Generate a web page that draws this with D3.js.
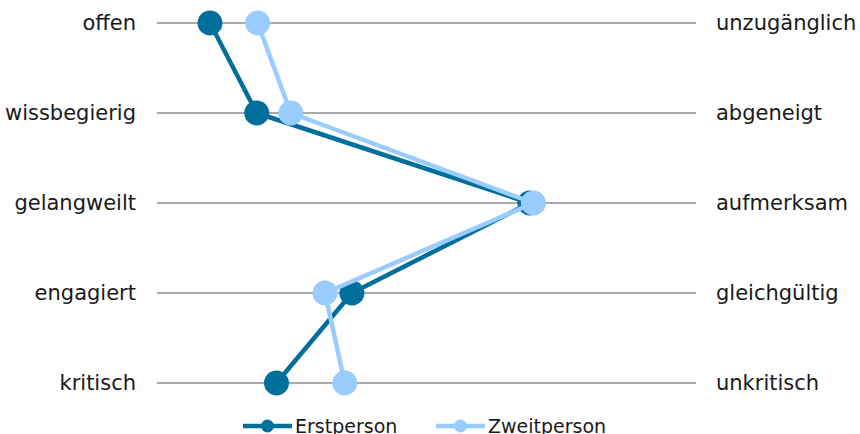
<!DOCTYPE html>
<html>
<head>
<meta charset="utf-8">
<script src="https://cdn.jsdelivr.net/npm/d3@7/dist/d3.min.js"></script>
<style>
  html, body { margin: 0; padding: 0; background: #ffffff; }
  svg { display: block; }
  text { font-family: "DejaVu Sans", sans-serif; fill: #1a1a1a; }
</style>
</head>
<body>
<script>
// Semantic differential: left/right adjective pairs, scale 1..7
const leftLabels  = ["offen", "wissbegierig", "gelangweilt", "engagiert", "kritisch"];
const rightLabels = ["unzugänglich", "abgeneigt", "aufmerksam", "gleichgültig", "unkritisch"];
const scaleTicks  = [1, 2, 3, 4, 5, 6, 7];
const erstperson  = [1.59, 2.11, 5.15, 3.17, 2.33];
const zweitperson = [2.12, 2.49, 5.19, 2.87, 3.09];

const series = [
  { name: "Erstperson",  values: erstperson,  color: "#006f9b" },
  { name: "Zweitperson", values: zweitperson, color: "#99ccff" }
];

const W = 860, H = 434;
const svg = d3.select("body").append("svg").attr("width", W).attr("height", H);

const x = d3.scaleLinear().domain(d3.extent(scaleTicks)).range([157, 696]);
const y = d3.scalePoint().domain(leftLabels).range([23, 383]);

// row rules
svg.append("g").selectAll("line").data(leftLabels).join("line")
  .attr("x1", x.range()[0]).attr("x2", x.range()[1])
  .attr("y1", d => y(d)).attr("y2", d => y(d))
  .attr("stroke", "#8c8c8c").attr("stroke-width", 1.6);

// left and right adjectives
svg.append("g").selectAll("text").data(leftLabels).join("text")
  .attr("x", 136).attr("y", d => y(d)).attr("dy", "0.35em")
  .attr("text-anchor", "end").attr("font-size", 21).text(d => d);
svg.append("g").selectAll("text").data(rightLabels).join("text")
  .attr("x", 716).attr("y", (d, i) => y(leftLabels[i])).attr("dy", "0.35em")
  .attr("text-anchor", "start").attr("font-size", 21).text(d => d);

const line = d3.line().x(d => x(d.v)).y(d => y(d.k));

series.forEach(s => {
  const pts = s.values.map((v, i) => ({ v, k: leftLabels[i] }));
  const g = svg.append("g");
  g.append("path").datum(pts).attr("d", line)
    .attr("fill", "none").attr("stroke", s.color).attr("stroke-width", 4.5)
    .attr("stroke-linejoin", "round");
  g.selectAll("circle").data(pts).join("circle")
    .attr("cx", d => x(d.v)).attr("cy", d => y(d.k)).attr("r", 12.5)
    .attr("fill", s.color);
});

// legend
const legend = svg.append("g").attr("transform", "translate(0,426)");
const legendX = [243, 436];
series.forEach((s, i) => {
  const g = legend.append("g").attr("transform", `translate(${legendX[i]},0)`);
  g.append("line").attr("x1", 0).attr("x2", 49).attr("y1", 0).attr("y2", 0)
    .attr("stroke", s.color).attr("stroke-width", 4.5);
  g.append("circle").attr("cx", 24.5).attr("cy", 0).attr("r", 6.5).attr("fill", s.color);
  g.append("text").attr("x", 52).attr("y", 0).attr("dy", "0.35em")
    .attr("font-size", 19).text(s.name);
});
</script>
</body>
</html>
